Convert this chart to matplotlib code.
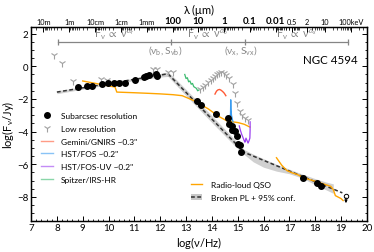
import numpy as np
import matplotlib
matplotlib.use('Agg')
import matplotlib.pyplot as plt
from matplotlib.lines import Line2D
from matplotlib.patches import Patch
from matplotlib.ticker import MultipleLocator, FixedLocator

plt.rcParams['font.family'] = ['Lato', 'DejaVu Sans']
plt.rcParams['mathtext.fontset'] = 'custom'
plt.rcParams['mathtext.rm'] = 'Lato'
plt.rcParams['mathtext.it'] = 'Lato:italic'
plt.rcParams['mathtext.bf'] = 'Lato:bold'
plt.rcParams['mathtext.fallback'] = 'stixsans'

# --- data ---
# subarcsec photometry (log nu, log F)
sub_x = [8.80, 9.18, 9.37, 9.76, 9.98, 10.20, 10.39, 10.65, 11.02, 11.36, 11.46,
         11.55, 11.84, 11.86, 13.42, 13.56, 14.17, 14.62, 14.67, 14.76, 14.79,
         14.89, 14.97, 15.02, 15.08, 15.12, 17.51, 18.05, 18.21]
sub_y = [-1.24, -1.19, -1.20, -1.11, -1.05, -1.03, -1.03, -1.00, -0.83, -0.63, -0.58,
         -0.55, -0.50, -0.60, -2.15, -2.38, -2.95, -3.17, -3.53, -3.63, -3.88,
         -3.94, -4.28, -4.78, -4.84, -5.27, -6.84, -7.13, -7.30]

# upper limit (open circle)
ulim_x = [19.19]
ulim_y = [-7.93]

# low resolution photometry
low_x = [7.90, 8.21, 8.62, 9.70, 9.95, 11.74, 11.87, 12.30, 12.48, 13.55, 13.65,
         13.75, 13.85, 13.95, 14.05, 14.12, 14.20, 14.28, 14.36, 14.45, 14.55,
         14.65, 14.82, 14.90, 14.97, 15.07, 15.17, 15.28, 15.38]
low_y = [0.70, 0.18, -0.93, -0.80, -0.82, -0.15, -0.15, -0.32, -0.32, -1.40, -1.25,
         -1.12, -0.98, -0.85, -0.70, -0.58, -0.48, -0.42, -0.38, -0.40, -0.55,
         -0.72, -1.08, -1.62, -2.25, -2.72, -3.00, -3.18, -3.28]

# spectra
gnirs_x = [14.12, 14.18, 14.24, 14.30, 14.36, 14.42, 14.48, 14.54]
gnirs_y = [-1.70, -1.52, -1.44, -1.42, -1.47, -1.55, -1.65, -1.80]

fos_x = [14.68, 14.70, 14.72, 14.73, 14.74, 14.76, 14.78, 14.80, 14.82]
fos_y = [-3.35, -3.10, -2.90, -2.05, -2.60, -3.00, -3.15, -3.30, -3.40]

fosuv_x = [15.06, 15.10, 15.15, 15.20, 15.25, 15.28, 15.32, 15.36, 15.40, 15.44,
           15.47, 15.48, 15.48]
fosuv_y = [-3.65, -3.90, -4.15, -4.35, -4.55, -4.65, -4.40, -4.55, -4.70, -4.55,
           -4.40, -3.90, -3.40]

irs_x = [12.95, 13.00, 13.05, 13.10, 13.15, 13.20, 13.25, 13.30, 13.35, 13.40, 13.45, 13.50]
irs_y = [-0.50, -0.75, -0.70, -0.95, -0.90, -1.10, -1.05, -1.25, -1.30, -1.35, -1.50, -1.45]

# radio-loud QSO template (gap between the two pieces)
qso_x = [9.00, 9.50, 10.00, 10.25, 10.32, 11.00, 11.60, 12.00, 12.50, 12.85, 13.30,
         13.85, 14.30, 14.57, 14.80, 15.02, 15.25, 15.47, np.nan,
         16.50, 16.70, 16.90, 17.10, 17.30, 17.52, 17.80, 18.10, 18.35, 18.60,
         18.70, 18.78, 19.00, 19.08]
qso_y = [-0.90, -1.05, -1.20, -1.27, -1.58, -1.62, -1.66, -1.69, -1.74, -1.80, -2.10,
         -2.60, -3.10, -3.33, -3.40, -3.45, -3.55, -3.72, np.nan,
         -5.60, -6.05, -6.38, -6.52, -6.62, -6.80, -6.95, -7.08, -7.22, -7.35,
         -7.55, -7.92, -8.10, -8.22]

# broken power law and its 95% band
pl_x = [8.00, 12.30, 15.25, 19.05]
pl_y = [-1.58, -0.46, -5.27, -7.75]
band_x = [8.0, 9.0, 10.0, 11.0, 12.0, 12.3, 12.6, 13.0, 13.5, 14.0, 14.5, 15.0,
          15.25, 15.6, 16.0, 16.5, 17.0, 17.5, 18.0, 18.4, 18.7]
band_lo = [-1.68, -1.40, -1.13, -0.88, -0.66, -0.62, -1.12, -1.80, -2.62, -3.45, -4.25,
           -5.05, -5.40, -5.85, -6.18, -6.42, -6.58, -6.85, -7.25, -7.55, -7.78]
band_hi = [-1.50, -1.25, -0.99, -0.73, -0.44, -0.34, -0.78, -1.42, -2.22, -3.03, -3.85,
           -4.68, -5.10, -5.38, -5.66, -6.00, -6.30, -6.60, -6.88, -7.08, -7.20]

# power-law segments annotation
seg_x = [8.04, 12.40, 15.30, 19.25]
seg_level = 1.47
seg_labels = [r'F$_\mathrm{\nu}$ $\propto$ $\mathrm{\nu}^{\alpha_r}$',
              r'F$_\mathrm{\nu}$ $\propto$ $\mathrm{\nu}^{\alpha_o}$',
              r'F$_\mathrm{\nu}$ $\propto$ $\mathrm{\nu}^{\alpha_x}$']
break_labels = [r'($\mathrm{\nu_b}$, S$_\mathrm{\nu b}$)', r'($\mathrm{\nu_x}$, S$_\mathrm{\nu x}$)']

# top axis
C_LIGHT = 2.998e8
KEV_HZ = 2.418e17
wl_labels = ['10m', '1m', '10cm', '1cm', '1mm', '100', '10', '1', '0.1', '0.01']
wl_metres = [10, 1, 0.1, 0.01, 1e-3, 1e-4, 1e-5, 1e-6, 1e-7, 1e-8]
kev_labels = ['0.5', '2', '10', '100keV']
kev_values = [0.5, 2, 10, 100]

GRAY = '#858585'
c_gnirs = '#ff5a36'
c_fos = '#3a9cf0'
c_fosuv = '#9b40f0'
c_irs = '#3dbb70'
c_qso = '#ffa500'

fig = plt.figure(figsize=(3.74, 2.53), dpi=100)
ax = fig.add_axes([0.083, 0.124, 0.898, 0.765])

ax.fill_between(band_x, band_lo, band_hi, color='#c8c8c8', alpha=0.85, lw=0)
ax.plot(pl_x, pl_y, color='#333333', lw=1.1, ls=(0, (2.5, 1.6)))
ax.plot(qso_x, qso_y, color=c_qso, lw=1.0)
ax.plot(irs_x, irs_y, color=c_irs, lw=0.9)
ax.plot(gnirs_x, gnirs_y, color=c_gnirs, lw=1.0)
ax.plot(fos_x, fos_y, color=c_fos, lw=0.9)
ax.plot(fosuv_x, fosuv_y, color=c_fosuv, lw=0.9)
ax.plot(low_x, low_y, ls='none', marker='1', ms=5.5, mew=0.8, color='#a0a0a0')
ax.plot(sub_x, sub_y, ls='none', marker='o', ms=4.0, color='black')
ax.plot(ulim_x, ulim_y, ls='none', marker='o', ms=3.2, mfc='white', mec='black', mew=0.7)
for ux, uy in zip(ulim_x, ulim_y):
    ax.annotate('', xy=(ux, uy - 0.45), xytext=(ux, uy - 0.12),
                arrowprops=dict(arrowstyle='-|>', lw=0.7, color='black',
                                mutation_scale=4, shrinkA=0, shrinkB=0))

# segment bar
ax.plot(seg_x, [seg_level] * len(seg_x), color=GRAY, lw=0.9, marker='|', ms=5, mew=0.9)
for i, lab in enumerate(seg_labels):
    xm = 0.5 * (seg_x[i] + seg_x[i + 1])
    ax.text(xm, seg_level + 0.52, lab, color=GRAY, fontsize=7.8, ha='center', va='center')
for xb, lab in zip(seg_x[1:3], break_labels):
    ax.text(xb - 0.2, seg_level - 0.45, lab, color=GRAY, fontsize=7.2, ha='center', va='center')

ax.text(18.57, 0.42, 'NGC 4594', fontsize=8.3, ha='center', va='center')

ax.set_xlim(7, 20)
ax.set_ylim(-9.45, 2.4)
ax.xaxis.set_major_locator(MultipleLocator(1))
ax.xaxis.set_minor_locator(MultipleLocator(0.2))
ax.yaxis.set_major_locator(MultipleLocator(2))
ax.yaxis.set_minor_locator(MultipleLocator(0.5))
ax.tick_params(which='both', direction='in', right=True, top=False, labelsize=7, pad=2)
ax.tick_params(which='major', length=3.5, width=0.7)
ax.tick_params(which='minor', length=1.8, width=0.6)
for s in ax.spines.values():
    s.set_linewidth(1.0)
ax.set_xlabel(r'log($\mathrm{\nu}$/Hz)', fontsize=8, labelpad=1)
ax.set_ylabel(r'log(F$_\mathrm{\nu}$/Jy)', fontsize=8, labelpad=1)

# top wavelength / energy axis
top = ax.twiny()
top.set_xlim(ax.get_xlim())
wl_pos = list(np.log10(C_LIGHT / np.array(wl_metres)))
kev_pos = list(np.log10(np.array(kev_values) * KEV_HZ))
top.xaxis.set_major_locator(FixedLocator(wl_pos + kev_pos))
top.set_xticklabels(wl_labels + kev_labels)
for i, t in enumerate(top.get_xticklabels()):
    if 5 <= i <= 9:
        t.set_fontsize(7)
        t.set_fontweight('bold')
    else:
        t.set_fontsize(5.3)
minor = []
for dec in range(-9, 2):
    for k in range(2, 10):
        minor.append(np.log10(C_LIGHT / (k * 10.0 ** dec)))
for dec in range(-1, 3):
    for k in range(1, 10):
        minor.append(np.log10(k * 10.0 ** dec * KEV_HZ))
minor = [m for m in minor if 7 < m < 20]
top.xaxis.set_minor_locator(FixedLocator(minor))
top.tick_params(which='both', direction='in', pad=1.5)
top.tick_params(which='major', length=3.5, width=0.7)
top.tick_params(which='minor', length=1.8, width=0.5)
top.set_xlabel(r'$\mathrm{\lambda}$ ($\mathrm{\mu}$m)', fontsize=8, labelpad=2)

# legends
h1 = [Line2D([], [], ls='none', marker='o', ms=4.0, color='black'),
      Line2D([], [], ls='none', marker='1', ms=5.5, mew=0.8, color='#a0a0a0'),
      Line2D([], [], color=c_gnirs, lw=1.0, alpha=0.6),
      Line2D([], [], color=c_fos, lw=1.0, alpha=0.6),
      Line2D([], [], color=c_fosuv, lw=1.0, alpha=0.6),
      Line2D([], [], color=c_irs, lw=1.0, alpha=0.6)]
l1 = ['Subarcsec resolution', 'Low resolution', 'Gemini/GNIRS ~0.3"',
      'HST/FOS ~0.2"', 'HST/FOS-UV ~0.2"', 'Spitzer/IRS-HR']
leg1 = ax.legend(h1, l1, loc='upper left', bbox_to_anchor=(0.03, 0.56), frameon=False,
                 fontsize=6.0, handlelength=1.4, handletextpad=1.0, labelspacing=0.68,
                 borderpad=0, borderaxespad=0)
ax.add_artist(leg1)
h2 = [Line2D([], [], color=c_qso, lw=1.0),
      (Patch(facecolor='#c8c8c8', edgecolor='none'),
       Line2D([], [], color='#333333', lw=1.1, ls=(0, (2.5, 1.6))))]
l2 = ['Radio-loud QSO', 'Broken PL + 95% conf.']
ax.legend(h2, l2, loc='upper left', bbox_to_anchor=(0.475, 0.205), frameon=False,
          fontsize=6.0, handlelength=1.4, handletextpad=1.0, labelspacing=0.68,
          borderpad=0, borderaxespad=0)

fig.savefig('out.png', dpi=100)
